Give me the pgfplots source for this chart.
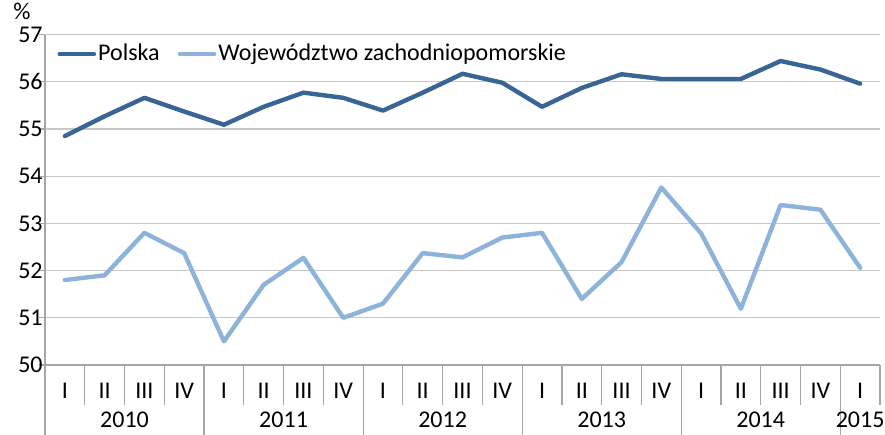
\documentclass[border=0pt]{standalone}
\usepackage{pgfplots}
\pgfplotsset{compat=1.18}
\usepackage{fontspec}
\setmainfont{Carlito}
\definecolor{pol}{HTML}{386596}
\definecolor{zach}{HTML}{8EB3DA}
\definecolor{gridc}{HTML}{C8C8C8}
\definecolor{axc}{HTML}{A6A6A6}
\begin{document}
\begin{tikzpicture}
\fontsize{12}{14}\selectfont
\begin{axis}[
  scale only axis,
  width=417.5pt, height=165.2pt,
  xmin=-0.5, xmax=20.5, ymin=50, ymax=57,
  ytick={50,51,...,57},
  xtick={0,...,20},
  xticklabels={I,II,III,IV,I,II,III,IV,I,II,III,IV,I,II,III,IV,I,II,III,IV,I},
  major x tick style={draw=none},
  ymajorgrids, grid style={gridc, line width=0.6pt},
  axis line style={axc, line width=0.6pt},
  axis x line*=bottom, axis y line*=left,
  y tick style={axc, line width=0.6pt}, tick align=outside, major tick length=3pt,
  xticklabel style={font=\fontsize{12}{14}\selectfont, yshift=-2pt},
  yticklabel style={font=\fontsize{12}{14}\selectfont, xshift=3pt, inner sep=1pt},
  /pgf/number format/assume math mode=true,
  clip=false,
  legend style={at={(0.012,0.985)}, anchor=north west, draw=none, fill=none,
    font=\fontsize{12}{14}\selectfont, column sep=0pt, inner sep=1pt,
    nodes={inner sep=1pt},
    /tikz/every even column/.append style={column sep=8pt}},
  legend columns=2,
  legend cell align=left,
  legend image code/.code={\draw[#1, line width=2.4pt, line cap=round] (0pt,0pt) -- (17pt,0pt);},
]
\addplot[pol, line width=2.2pt, line join=round, line cap=round] coordinates {
(0,54.85) (1,55.27) (2,55.66) (3,55.37) (4,55.09) (5,55.47) (6,55.77) (7,55.66)
(8,55.39) (9,55.77) (10,56.17) (11,55.98) (12,55.47) (13,55.87) (14,56.16) (15,56.06)
(16,56.06) (17,56.06) (18,56.44) (19,56.26) (20,55.96)};
\addlegendentry{Polska}
\addplot[zach, line width=2.2pt, line join=round, line cap=round] coordinates {
(0,51.8) (1,51.9) (2,52.8) (3,52.37) (4,50.5) (5,51.7) (6,52.27) (7,51.0)
(8,51.3) (9,52.37) (10,52.28) (11,52.7) (12,52.8) (13,51.4) (14,52.18) (15,53.76)
(16,52.79) (17,51.19) (18,53.39) (19,53.29) (20,52.06)};
\addlegendentry{Województwo zachodniopomorskie}
% separators
\pgfplotsinvokeforeach{0.5,1.5,2.5,4.5,5.5,6.5,8.5,9.5,10.5,12.5,13.5,14.5,16.5,17.5,18.5,20.5} {
  \draw[axc, line width=0.6pt] (axis cs:#1,50) -- ([yshift=-20pt]axis cs:#1,50);
}
\pgfplotsinvokeforeach{-0.5,3.5,7.5,11.5,15.5,19.5} {
  \draw[axc, line width=0.6pt] (axis cs:#1,50) -- ([yshift=-35pt]axis cs:#1,50);
}
\node at ([yshift=-27.5pt]axis cs:1.5,50) {2010};
\node at ([yshift=-27.5pt]axis cs:5.5,50) {2011};
\node at ([yshift=-27.5pt]axis cs:9.5,50) {2012};
\node at ([yshift=-27.5pt]axis cs:13.5,50) {2013};
\node at ([yshift=-27.5pt]axis cs:17.5,50) {2014};
\node at ([yshift=-27.5pt]axis cs:20,50) {2015};
\node[anchor=base west, inner sep=0pt] at ([xshift=-16pt,yshift=7.5pt]rel axis cs:0,1) {\%};
\coordinate (O) at (rel axis cs:0,0);
\coordinate (T) at (rel axis cs:1,1);
\end{axis}
\pgfresetboundingbox
\path ([xshift=-22.5pt,yshift=-35pt]O) rectangle ([xshift=2.5pt,yshift=17.3pt]T);
\end{tikzpicture}
\end{document}
